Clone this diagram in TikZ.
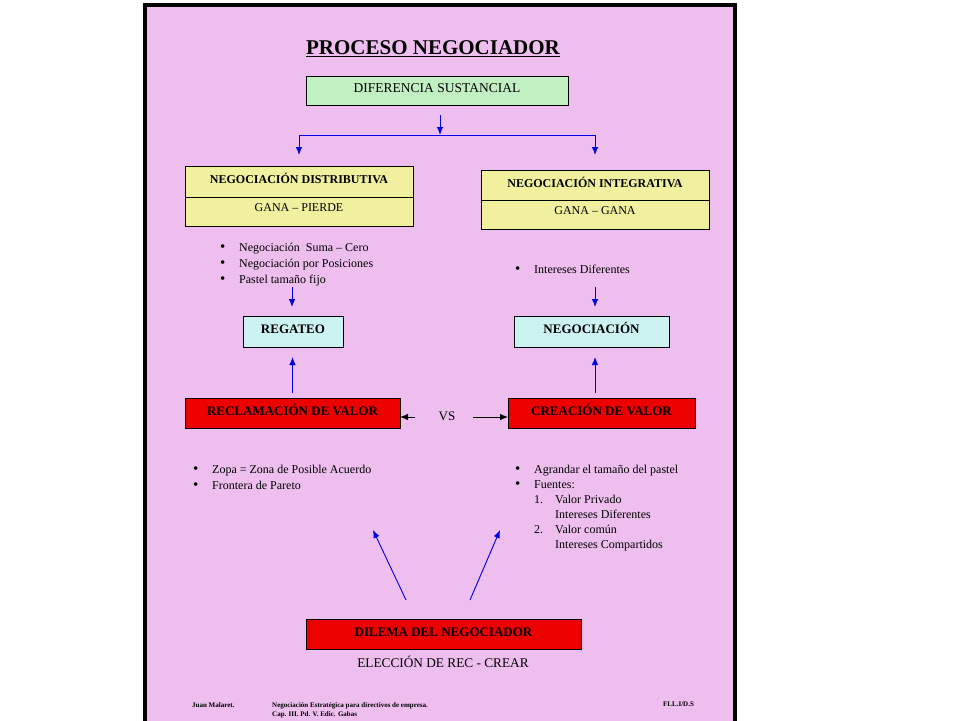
\documentclass[tikz,border=0pt]{standalone}
\usepackage{fontspec}
\setmainfont{Liberation Serif}
\usetikzlibrary{arrows.meta,positioning}
\definecolor{pagepink}{RGB}{238,190,238}
\definecolor{boxgreen}{RGB}{194,240,194}
\definecolor{boxyellow}{RGB}{240,240,158}
\definecolor{boxcyan}{RGB}{204,242,242}
\definecolor{boxred}{RGB}{236,0,0}
\definecolor{arrowblue}{RGB}{0,0,230}
\newcommand{\itm}{\makebox[19pt][l]{\raisebox{-0.6pt}{\fontsize{15}{15}\selectfont\textbullet}}}
\tikzset{
  box/.style={draw=black, line width=0.9pt, inner sep=0pt, outer sep=0pt,
    align=center, text height=9pt, text depth=5pt},
  greenbox/.style={box, fill=boxgreen, font=\fontsize{13.5}{16}\selectfont},
  yellowbox/.style={box, fill=boxyellow, font=\fontsize{12}{14}\selectfont},
  cyanbox/.style={box, fill=boxcyan, font=\fontsize{13}{15}\selectfont\bfseries},
  redbox/.style={box, fill=boxred, font=\fontsize{13}{15}\selectfont\bfseries},
  bullets/.style={inner sep=0pt, anchor=base west},
  footer/.style={inner sep=0pt, anchor=base west, font=\fontsize{7}{9}\selectfont\bfseries},
  bluearrow/.style={draw=arrowblue, line width=0.9pt, -{Latex[length=8pt,width=6.5pt]}},
  blueline/.style={draw=arrowblue, line width=0.9pt},
  blackarrow/.style={draw=black, line width=0.9pt, -{Latex[length=8pt,width=6.5pt]}}
}
\begin{document}
\begin{tikzpicture}[x=1pt,y=-1pt]
  \useasboundingbox (0,0) rectangle (960,720);
  % page
  \fill[pagepink] (145,5) rectangle (735,740);
  \draw[line width=4pt] (145,740) -- (145,5) -- (735,5) -- (735,740);

  % title and top box
  \node[anchor=base] (title) at (433,54.5)
    {\fontsize{21}{25}\selectfont\bfseries\underline{PROCESO NEGOCIADOR}};
  \node[greenbox, minimum width=262, minimum height=29] (dif) at (437,90.5)
    {DIFERENCIA SUSTANCIAL};

  % two kinds of negotiation
  \node[yellowbox, minimum width=228, minimum height=31] (disttop) at (299,181.5)
    {\bfseries NEGOCIACIÓN DISTRIBUTIVA};
  \node[yellowbox, minimum width=228, minimum height=29, text depth=9pt,
    below=0pt of disttop] (distbot) {GANA – PIERDE};
  \node[yellowbox, minimum width=228, minimum height=30] (integtop) at (595,185)
    {\bfseries NEGOCIACIÓN INTEGRATIVA};
  \node[yellowbox, minimum width=228, minimum height=29, text depth=9pt,
    below=0pt of integtop] (integbot) {GANA – GANA};

  \node[bullets] (distlist) at (220,251)
    {\fontsize{12}{16}\selectfont\begin{tabular}[t]{@{}l@{}}
      \itm Negociación\ \ Suma – Cero\\
      \itm Negociación por Posiciones\\
      \itm Pastel tamaño fijo
    \end{tabular}};
  \node[bullets] (integlist) at (515,273)
    {\fontsize{12}{16}\selectfont\itm Intereses Diferentes};

  \node[cyanbox, minimum width=100, minimum height=31] (regateo) at (293,331.5) {REGATEO};
  \node[cyanbox, minimum width=155, minimum height=31] (negociacion) at (591.5,331.5) {NEGOCIACIÓN};

  % value boxes
  \node[redbox, minimum width=215, minimum height=30] (reclam) at (292.5,413) {RECLAMACIÓN DE VALOR};
  \node[redbox, minimum width=187, minimum height=30] (creacion) at (601.5,413) {CREACIÓN DE VALOR};
  \node (vs) at (447,416) {\fontsize{13}{15}\selectfont VS};

  \node[bullets] (reclamlist) at (193,473)
    {\fontsize{12}{16}\selectfont\begin{tabular}[t]{@{}l@{}}
      \itm Zopa = Zona de Posible Acuerdo\\
      \itm Frontera de Pareto
    \end{tabular}};
  \node[bullets] (creacionlist) at (515,473)
    {\fontsize{12}{15}\selectfont\begin{tabular}[t]{@{}l@{}}
      \itm Agrandar el tamaño del pastel\\
      \itm Fuentes:\\
      \hspace*{19pt}\makebox[21pt][l]{1.}Valor Privado\\
      \hspace*{40pt}Intereses Diferentes\\
      \hspace*{19pt}\makebox[21pt][l]{2.}Valor común\\
      \hspace*{40pt}Intereses Compartidos
    \end{tabular}};

  % dilemma
  \node[redbox, minimum width=275, minimum height=30] (dilema) at (443.5,634) {DILEMA DEL NEGOCIADOR};
  \node (eleccion) at (443,662) {\fontsize{13.3}{15}\selectfont ELECCIÓN DE REC - CREAR};

  % footer
  \node[footer] (author) at (192,707) {Juan Malaret.};
  \node[footer] (book) at (272,707)
    {\begin{tabular}[t]{@{}l@{}}
      Negociación Estratégica para directivos de empresa.\\
      Cap. III. Pd. V. Edic. Gabas
    \end{tabular}};
  \node[footer] (code) at (663,706) {FLL.I/D.S};

  % connectors
  \coordinate (tTop) at (440,115);
  \coordinate (tJoin) at (440,135);
  \coordinate (tL) at (299,135);
  \coordinate (tR) at (595,135);
  \coordinate (regIn) at (292,287);
  \coordinate (negIn) at (595,287);
  \coordinate (vsL) at (415,417);
  \coordinate (vsR) at (473,417);
  \coordinate (dilL) at (406,600);
  \coordinate (dilR) at (470,600);
  \coordinate (claimEnd) at (373,530);
  \coordinate (createEnd) at (500,530);
  \begin{scope}
    \draw[bluearrow] (tTop) -- (tJoin);
    \draw[blueline] (tL) -- (tR);
    \draw[bluearrow, shorten >=11pt] (tL) -- (tL |- disttop.north);
    \draw[bluearrow, shorten >=15pt] (tR) -- (tR |- integtop.north);
    \draw[bluearrow, shorten >=9pt] (regIn) -- (regIn |- regateo.north);
    \draw[bluearrow, shorten >=9pt] (negIn) -- (negIn |- negociacion.north);
    \draw[bluearrow, shorten <=5pt, shorten >=10pt] (reclam.north) -- (reclam.north |- regateo.south);
    \draw[bluearrow, shorten <=5pt, shorten >=10pt] (negIn |- creacion.north) -- (negIn |- negociacion.south);
    \draw[blackarrow] (vsL) -- (vsL -| reclam.east);
    \draw[blackarrow] (vsR) -- (vsR -| creacion.west);
    \draw[bluearrow] (dilL) -- (claimEnd);
    \draw[bluearrow] (dilR) -- (createEnd);
  \end{scope}
\end{tikzpicture}
\end{document}
